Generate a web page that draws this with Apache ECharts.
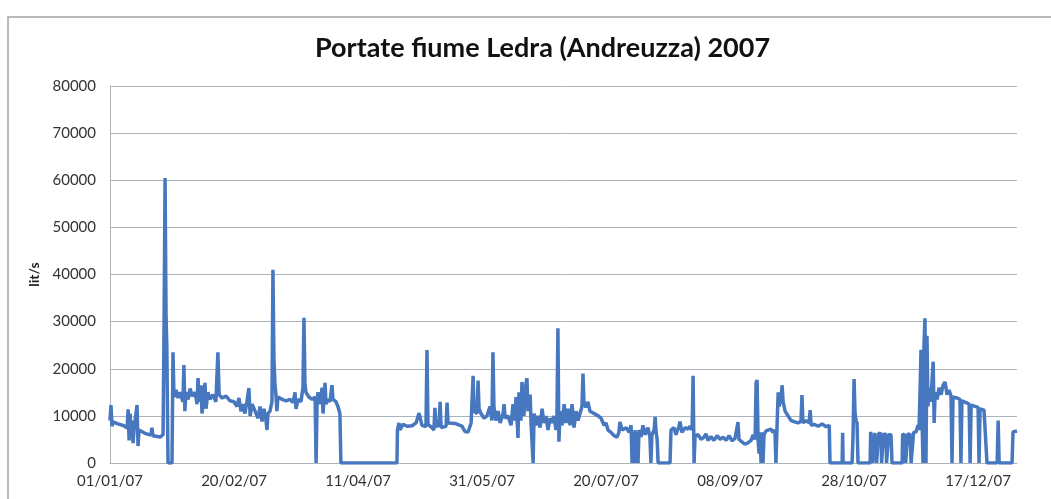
<!DOCTYPE html>
<html>
<head>
<meta charset="utf-8">
<title>Portate fiume Ledra (Andreuzza) 2007</title>
<script src="https://cdn.jsdelivr.net/npm/echarts@6/dist/echarts.min.js"></script>
<style>
  html, body { margin: 0; padding: 0; background: #fff; }
  #chart { width: 1051px; height: 499px; }
</style>
</head>
<body>
<div id="chart"></div>
<script>
// giorni dall'01/01/07 e portata (lit/s)
const days = [
  0, 0.4, 0.8, 1.2, 3.2, 5.6, 6.9, 7.3, 7.7, 8.1, 8.5, 8.9, 9.3, 9.7, 10.5, 10.9, 11.3, 11.7, 14.1, 16.5, 16.9, 17.3, 20.2, 21.4, 21.8, 22.2, 22.6, 22.9, 23.4, 25.0, 25.4, 25.8,
  26.6, 27.4, 28.2, 29.4, 29.8, 30.2, 30.6, 31.5, 32.3, 33.1, 34.3, 35.1, 35.5, 35.9, 36.7, 37.1, 37.9, 38.3, 38.7, 39.5, 40.3, 41.5, 42.7, 43.5, 44.0, 45.2, 46.8, 48.4,
  50.0, 51.2, 52.0, 52.8, 53.6, 54.4, 55.2, 56.0, 56.5, 57.3,
  58.5, 59.7, 60.5, 61.3, 62.1, 62.9, 63.3, 63.7, 64.5, 65.3, 65.7, 66.1, 66.5, 66.9, 67.3, 67.7, 69.4, 71.0, 72.6, 73.8, 74.6, 75.0, 75.8, 77.0, 77.8, 78.2, 78.6, 79.0,
  80.2, 81.5, 82.7, 83.1, 83.5, 83.9, 84.7, 85.5, 85.9, 86.7, 87.1, 87.9, 88.7, 89.5, 89.9, 91.1, 91.9, 92.7, 93.1, 115.7,
  115.9, 116.5, 116.9, 118.1, 119.8, 121.8, 123.4, 124.6, 125.8, 127.4, 127.8, 128.2, 129.8, 130.6, 131.0, 131.5, 132.7, 133.1, 133.5, 135.5, 135.9, 136.3,
  139.1, 141.9, 143.1, 144.4, 145.6, 146.4, 146.8, 148.0, 148.4, 148.8, 149.6, 150.8, 152.0, 153.2, 154.0, 154.4, 154.8, 155.6, 156.5, 157.3, 158.5, 158.9, 159.3,
  160.5, 161.7, 162.5, 163.3, 163.7, 164.5, 164.9, 165.7, 166.1, 166.9, 167.3, 168.1, 168.5, 169.4, 169.8, 170.6, 171.0, 171.8, 172.6, 173.4, 174.2, 175.0, 175.8,
  176.6, 177.4, 178.2, 179.0, 179.8, 180.2, 180.6, 181.0, 181.5, 182.3, 183.1, 183.9, 184.7, 185.5, 186.3, 187.1, 187.9, 188.7, 189.5, 190.3, 190.7, 191.1, 191.9,
  192.7, 193.5, 195.2, 196.8, 198.0, 199.2, 200.0, 200.8, 202.0, 203.2, 204.4, 205.2, 205.6, 206.5, 208.1, 209.3, 210.1, 210.5, 210.9, 211.3, 211.7, 212.1, 212.5,
  212.9, 213.3, 214.1, 214.9, 215.7, 216.9, 217.7, 218.1, 218.5, 219.4, 219.8, 220.2, 220.6, 221.0, 225.8, 226.2, 227.4, 228.2, 229.4, 229.8, 230.6, 231.9, 233.1,
  233.9, 234.7, 235.1, 235.5, 235.9, 237.1, 238.3, 239.5, 240.3, 241.1, 242.3, 243.5, 244.8, 246.0, 247.2, 248.4, 249.6, 250.8, 252.0, 253.2, 253.6, 254.8, 256.0,
  257.3, 258.5, 259.3, 260.1, 260.5, 260.9, 261.3, 261.7, 262.1, 262.5, 262.9, 263.3, 263.7, 264.5, 265.3, 266.5, 267.3, 268.1, 268.5, 268.9, 269.4, 269.8, 270.6,
  271.0, 271.4, 272.2, 273.4, 274.6, 275.8, 277.4, 278.6, 279.0, 279.4, 280.6, 281.9, 282.3, 282.7, 283.9, 285.5, 287.1, 288.7, 290.0, 290.3, 295.2, 295.4, 295.6,
  299.2, 299.6, 300.0, 300.4, 300.8, 301.2, 301.6, 306.5, 306.7, 307.3, 307.5, 308.1, 308.3, 308.9, 309.1, 309.7, 309.9, 310.9, 311.1, 311.7, 311.9, 312.9, 313.1,
  313.7, 313.9, 314.9, 315.3, 319.4, 319.6, 320.6, 320.8, 321.4, 321.6, 322.6, 323.0, 323.8, 324.0, 325.0, 325.8, 326.2, 326.6, 327.0, 327.4, 327.8, 328.2, 328.6,
  329.0, 329.4, 329.8, 330.2, 331.0, 331.5, 331.9, 332.3, 332.7, 333.5, 334.3, 335.1, 335.9, 336.7, 337.5, 338.3, 339.1, 339.5, 339.9, 341.5, 342.7, 343.1, 343.5,
  345.2, 346.4, 346.8, 347.2, 348.8, 350.0, 350.4, 350.8, 352.4, 353.2, 353.6, 357.7, 358.1, 358.5, 363.7, 364.1, 365.7
]
const flow = [
  9000, 12300, 7800, 8700, 8300, 7900, 7400, 11400, 4800, 10500, 6200, 9000, 4200, 7200, 6800, 12300, 3600, 7000, 6300, 5900, 7500, 5800, 5500, 6000, 30000, 60500, 31000, 25000, 0, 0, 23500, 14000,
  15500, 13800, 15000, 13000, 20800, 11000, 15000, 13500, 15800, 14200, 15000, 12500, 18000, 13000, 16500, 10500, 15000, 17000, 11500, 15000, 13500, 14500, 13000, 23500, 14500, 13800, 14200, 13200,
  13000, 12000, 13800, 11000, 12500, 10500, 13000, 15900, 10000, 12500,
  11000, 9500, 12000, 8800, 11500, 9000, 7000, 10500, 11000, 13000, 41000, 22000, 17000, 14500, 11000, 14000, 13500, 13200, 13500, 12800, 15000, 11500, 13500, 13000, 16000, 30800, 17000, 15000,
  14000, 13500, 14000, 0, 13500, 15000, 12500, 16000, 10500, 17000, 12500, 13500, 13000, 16500, 13500, 13000, 12000, 10500, 0, 0,
  7000, 8500, 7000, 8200, 7800, 7900, 8500, 10600, 8000, 7700, 24000, 8200, 7500, 7000, 11700, 7800, 8000, 13000, 7500, 7800, 12800, 8500,
  8400, 7800, 6700, 6600, 8500, 18500, 11000, 10500, 17500, 11500, 10500, 9500, 10000, 12000, 9000, 23500, 12000, 9000, 11000, 8500, 10500, 12500, 9500,
  10000, 8000, 12500, 9000, 14000, 5300, 15000, 9000, 17200, 10000, 15500, 18000, 11000, 14500, 8000, 0, 10500, 8000, 10000, 7500, 11500, 8500, 10000,
  7000, 9500, 8500, 10000, 7000, 9500, 28600, 4500, 11000, 8000, 12500, 8500, 11500, 8000, 12500, 7500, 11000, 9000, 10500, 12000, 19000, 13000, 11800,
  13000, 11000, 10500, 10000, 9500, 8000, 8500, 7000, 6500, 5800, 5500, 6500, 8700, 7000, 7500, 6500, 8000, 0, 6500, 0, 7000, 0, 6500,
  0, 7000, 5500, 8000, 6000, 7500, 5500, 0, 6000, 7000, 9800, 6500, 5000, 0, 0, 7000, 7500, 6000, 7800, 8800, 6500, 7500, 7200,
  7800, 7000, 18500, 0, 5800, 6000, 5000, 5500, 6200, 4800, 5600, 4800, 5800, 5000, 5500, 4800, 5800, 4700, 5200, 8700, 5000, 4500, 4000,
  4300, 4800, 6000, 5000, 17000, 17600, 5000, 2000, 6500, 0, 6500, 0, 6000, 6800, 6500, 7200, 6500, 7000, 0, 7000, 15000, 12000, 14000,
  16500, 13000, 11000, 10000, 9000, 8800, 8500, 8800, 14400, 8500, 9000, 8500, 11200, 8000, 8200, 7800, 8300, 7700, 8000, 0, 0, 6400, 0,
  0, 6000, 17800, 10500, 9000, 8500, 0, 0, 6600, 6500, 0, 0, 6400, 6500, 0, 0, 6300, 6200, 0, 0, 6200, 6000, 0,
  0, 6000, 6000, 0, 0, 6200, 5800, 0, 0, 6200, 6000, 0, 0, 6500, 6600, 8000, 7000, 15000, 24000, 10000, 0, 25000, 30700,
  0, 27000, 12000, 16000, 13000, 18000, 21500, 8500, 15000, 13500, 16000, 14500, 16500, 17200, 14500, 15500, 14200, 0, 14000, 13800, 13500, 0, 13200,
  12800, 12500, 0, 12300, 12000, 11800, 0, 11500, 11200, 10800, 0, 0, 9000, 0, 0, 6600, 6800
]
const yTicks = [0, 10000, 20000, 30000, 40000, 50000, 60000, 70000, 80000]
const dayTickStep = 50

const chart = echarts.init(document.getElementById('chart'))

function dayLabel(d) {
  const dt = new Date(Date.UTC(2007, 0, 1) + Math.round(d) * 86400000)
  const dd = String(dt.getUTCDate()).padStart(2, '0')
  const mm = String(dt.getUTCMonth() + 1).padStart(2, '0')
  const yy = String(dt.getUTCFullYear()).slice(2)
  return `${dd}/${mm}/${yy}`
}

const option = {
  animation: false,
  textStyle: { fontFamily: 'Lato' },
  graphic: [
    {
      type: 'rect',
      shape: { x: 8, y: 17, width: 1100, height: 600 },
      style: { fill: null, stroke: '#a3a3a3', lineWidth: 1.5 }
    }
  ],
  title: {
    text: 'Portate fiume Ledra (Andreuzza) 2007',
    left: 310,
    top: 30,
    textStyle: { fontFamily: 'Lato', fontSize: 27, fontWeight: 'bold', color: '#111' }
  },
  grid: { left: 110, right: 34, top: 86, bottom: 36 },
  xAxis: {
    type: 'value',
    min: 0,
    max: 365.7,
    interval: dayTickStep,
    splitLine: { show: false },
    axisTick: { show: false },
    axisLine: { lineStyle: { color: '#a9b4bd', width: 1 } },
    axisLabel: {
      showMaxLabel: false,
      margin: 11,
      fontSize: 15,
      color: '#333',
      formatter: (v) => (v % dayTickStep === 0 ? dayLabel(v) : '')
    }
  },
  yAxis: {
    type: 'value',
    min: yTicks[0],
    max: yTicks[yTicks.length - 1],
    interval: 10000,
    name: 'lit/s',
    nameLocation: 'middle',
    nameRotate: 90,
    nameGap: 66,
    nameTextStyle: { fontSize: 14, fontWeight: 'bold', color: '#222' },
    axisLine: { show: true, lineStyle: { color: '#a9b4bd', width: 1 } },
    axisTick: { show: false },
    splitLine: { lineStyle: { color: '#a9b4bd', width: 1 } },
    axisLabel: { fontSize: 15, color: '#333', margin: 14, formatter: (v) => String(v) }
  },
  series: [
    {
      type: 'line',
      data: days.map((d, i) => [d, flow[i]]),
      showSymbol: false,
      lineStyle: { color: '#4677bf', width: 3.5 },
      itemStyle: { color: '#4677bf' }
    }
  ]
}

chart.setOption(option)
</script>
</body>
</html>
